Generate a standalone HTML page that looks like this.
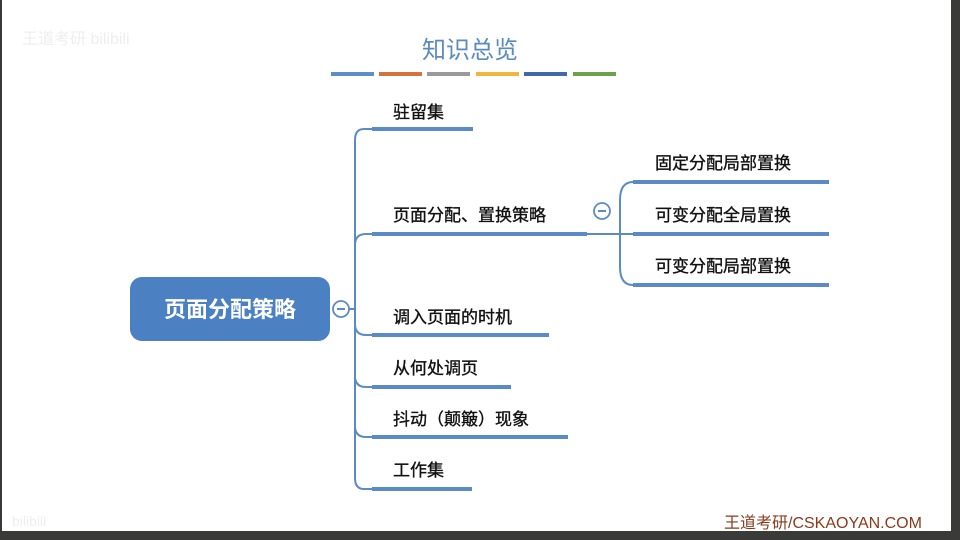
<!DOCTYPE html>
<html><head><meta charset="utf-8"><style>
html,body{margin:0;padding:0;background:#fff}
svg{display:block}
text{font-family:"Liberation Sans","Noto Sans CJK SC",sans-serif}
</style></head><body>
<svg width="960" height="540" viewBox="0 0 960 540" xmlns="http://www.w3.org/2000/svg">
<rect x="0" y="0" width="960" height="540" fill="#3a3a38"/>
<rect x="2" y="0" width="949" height="531" fill="#fff"/>
<text x="470" y="58" text-anchor="middle" font-size="24" fill="#5a8abf">知识总览</text>
<g>
<rect x="331" y="72" width="43" height="4" fill="#5b8fc7"/>
<rect x="379" y="72" width="43" height="4" fill="#d5733f"/>
<rect x="427" y="72" width="43" height="4" fill="#9a9a9a"/>
<rect x="476" y="72" width="43" height="4" fill="#f2b63c"/>
<rect x="524" y="72" width="43" height="4" fill="#3f69aa"/>
<rect x="573" y="72" width="43" height="4" fill="#6ea04a"/>
</g>
<g stroke="#5b8bc7" fill="none" stroke-width="2">
<path d="M372 129 H364 Q355 129 355 140 V478 Q355 489 364 489 H372"/>
<path d="M355 245 Q355 234 366 234 H372"/>
<path d="M355 324 Q355 335 366 335 H372"/>
<path d="M355 376 Q355 387 366 387 H372"/>
<path d="M355 426 Q355 437 366 437 H372"/>
<path d="M333 309 H355"/>
<path d="M587 234 H633"/>
<path d="M633 182 Q620 182 620 200 V267 Q620 285 633 285"/>
</g>
<g fill="#5b8bc7">
<rect x="372" y="127" width="101" height="4"/>
<rect x="372" y="232" width="215" height="4"/>
<rect x="372" y="333" width="177" height="4"/>
<rect x="372" y="385" width="139" height="4"/>
<rect x="372" y="435" width="196" height="4"/>
<rect x="372" y="487" width="100" height="4"/>
<rect x="633" y="180" width="196" height="4"/>
<rect x="633" y="232" width="196" height="4"/>
<rect x="633" y="283" width="196" height="4"/>
</g>
<rect x="130" y="277" width="200" height="64" rx="12" fill="#4b80c2"/>
<text x="230" y="317" text-anchor="middle" font-size="22" font-weight="bold" fill="#fff">页面分配策略</text>
<circle cx="341" cy="309" r="8" fill="#fff" stroke="#5b8bc7" stroke-width="1.8"/>
<rect x="337" y="308" width="8" height="2" fill="#5b8bc7"/>
<circle cx="602" cy="211" r="8" fill="#fff" stroke="#5b8bc7" stroke-width="1.8"/>
<rect x="598" y="210" width="8" height="2" fill="#5b8bc7"/>
<g font-size="17" fill="#111" stroke="#111" stroke-width="0.35">
<text x="393" y="118">驻留集</text>
<text x="393" y="221">页面分配、置换策略</text>
<text x="393" y="323">调入页面的时机</text>
<text x="393" y="374">从何处调页</text>
<text x="393" y="425">抖动（颠簸）现象</text>
<text x="393" y="476">工作集</text>
<text x="655" y="169">固定分配局部置换</text>
<text x="655" y="221">可变分配全局置换</text>
<text x="655" y="272">可变分配局部置换</text>
</g>
<text x="724" y="528" font-size="16" fill="#8a3a1c">王道考研/CSKAOYAN.COM</text>
<text x="22" y="44" font-size="16" fill="#eee">王道考研 bilibili</text>
<text x="12" y="526" font-size="14" fill="#eee">bilibili</text>
</svg>
</body></html>
